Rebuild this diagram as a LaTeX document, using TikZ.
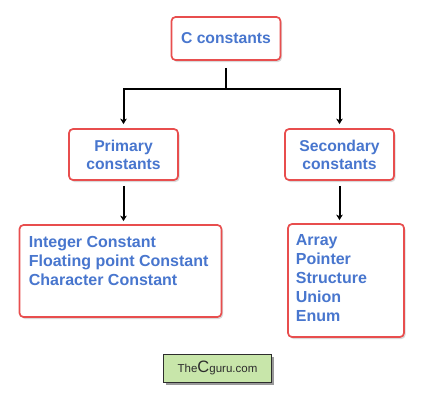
\documentclass[tikz,border=0pt]{standalone}
\usepackage{fontspec}
\setmainfont{Liberation Sans}
\usetikzlibrary{arrows.meta,shadows,calc}

\definecolor{titelblau}{RGB}{72,118,206}
\definecolor{rahmenrot}{RGB}{232,78,78}
\definecolor{logogruen}{RGB}{200,230,170}
\definecolor{logograu}{RGB}{45,45,45}

\tikzset{
    kasten/.style={draw=rahmenrot, line width=1.7pt, rounded corners=4pt, fill=white,
        drop shadow={shadow xshift=1.5pt, shadow yshift=-2pt, opacity=0.3},
        inner sep=0pt, text=titelblau, align=center,
        font=\bfseries\fontsize{15.7}{18}\selectfont},
    liste/.style={inner sep=0pt, text=titelblau, align=left,
        font=\bfseries\fontsize{16}{19}\selectfont},
    pfeil/.style={line width=2pt, -{Stealth[length=5.5pt,width=6.5pt,inset=1.5pt]}},
}

\begin{document}
\begin{tikzpicture}[x=1pt, y=-1pt]
    \useasboundingbox (0,0) rectangle (434,410);
    %Kaesten
    \node[kasten, minimum width=109pt, minimum height=43pt] (ctop) at (226,38.5) {C constants};
    \node[kasten, minimum width=109pt, minimum height=51pt] (prim) at (123.5,154.5) {Primary\\constants};
    \node[kasten, minimum width=109pt, minimum height=51pt] (sec) at (339.5,154.5) {Secondary\\constants};
    \node[kasten, minimum width=202pt, minimum height=92pt] (primlist) at (120.5,271) {};
    \node[kasten, minimum width=116pt, minimum height=113pt] (seclist) at (346,280.5) {};
    
    %Listen
    \node[liste, anchor=north west] (primtext) at ([shift={(10,11.5)}]primlist.north west)
        {Integer Constant\\Floating point Constant\\Character Constant};
    \node[liste, anchor=north west] (sectext) at ([shift={(8.5,11)}]seclist.north west)
        {Array\\Pointer\\Structure\\Union\\Enum};
    
    %Logo
    \node[draw=logograu, line width=1pt, fill=logogruen, minimum width=108pt, minimum height=28pt,
        inner sep=0pt, text=logograu, drop shadow={shadow xshift=2.5pt, shadow yshift=-2.5pt, opacity=0.8}]
        (logo) at (217.5,368) {\fontsize{11.5}{14}\selectfont The{\fontsize{16.5}{14}\selectfont C}guru.com};
    
    %Pfeile
    \coordinate (verzw) at ($(ctop.south)+(0,28)$);
    \draw[pfeil, shorten <=7pt, shorten >=4pt] (ctop.south) -- (verzw) -| (prim.north);
    \draw[pfeil, shorten >=4pt] (verzw) -| (sec.north);
    \foreach \a/\b in {prim/primlist, sec/seclist} {
        \draw[pfeil, shorten <=5pt, shorten >=3pt] (\a.south) -- (\a.south |- \b.north);
    }
\end{tikzpicture}
\end{document}
